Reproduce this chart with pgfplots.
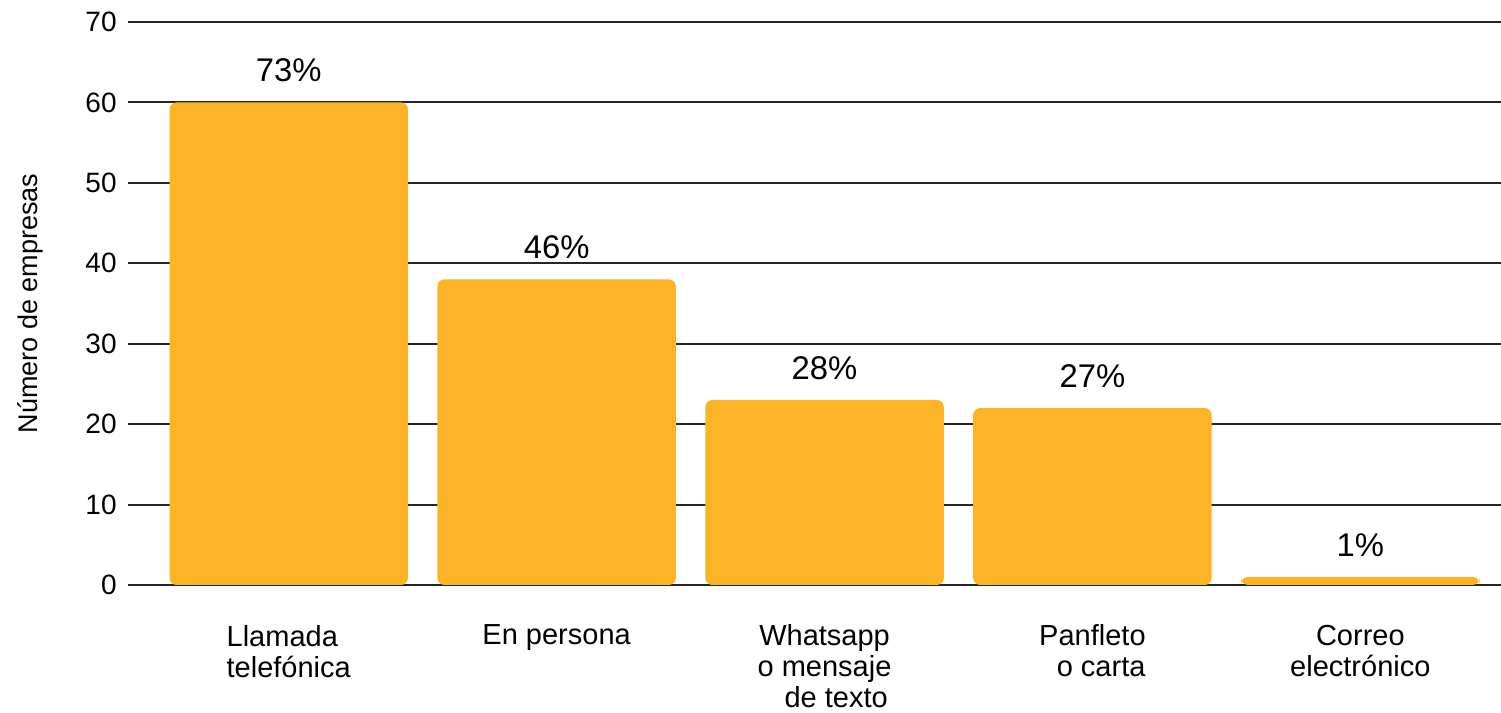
\documentclass[border=0pt]{standalone}
\usepackage{pgfplots}
\pgfplotsset{compat=1.18}
\usepackage{fontspec}
\setmainfont{Liberation Sans}
\definecolor{barorange}{RGB}{252,180,38}
\begin{document}
\begin{tikzpicture}
\begin{axis}[
  scale only axis,
  width=686.5bp, height=281.5bp,
  xmin=-0.6, xmax=4.525,
  ymin=0, ymax=70,
  ytick={0,10,...,70},
  xtick={0,1,2,3,4},
  xticklabels={
    {\begin{tabular}[t]{@{}l@{}}Llamada\\telefónica\end{tabular}},
    {En persona},
    {Whatsapp\\o mensaje\\\hspace{0.8em}de texto},
    {Panfleto\\\hspace{0.6em}o carta},
    {Correo\\electrónico}},
  xticklabel style={align=center, font=\fontsize{14.5bp}{15.5bp}\selectfont, anchor=north, inner sep=0pt, yshift=-15.5bp},
  yticklabel style={font=\fontsize{14bp}{16bp}\selectfont, inner sep=0pt, xshift=-5.5bp},
  /pgf/number format/assume math mode=true,
  axis line style={draw=none},
  major tick style={draw=none},
  ymajorgrids,
  grid style={black!85, line width=1bp},
  ylabel={Número de empresas},
  every axis y label/.style={at={(axis description cs:-0.0714,0.5)}, rotate=90, anchor=center, font=\fontsize{13.5bp}{16bp}\selectfont},
  ybar, bar width=0.89,
  nodes near coords,
  point meta=explicit symbolic,
  every node near coord/.append style={font=\fontsize{16.4bp}{19bp}\selectfont, inner sep=0pt, anchor=south, yshift=10bp, black},
]
\addplot[fill=barorange, draw=none, rounded corners=3.5bp] coordinates {
  (0,60) [73\%]
  (1,38) [46\%]
  (2,23) [28\%]
  (3,22) [27\%]
  (4,1) [1\%]
};
\end{axis}
\pgfresetboundingbox
\path[use as bounding box] ([xshift=-64bp,yshift=-64bp]current axis.south west) rectangle ([yshift=11bp]current axis.north east);
\end{tikzpicture}
\end{document}
